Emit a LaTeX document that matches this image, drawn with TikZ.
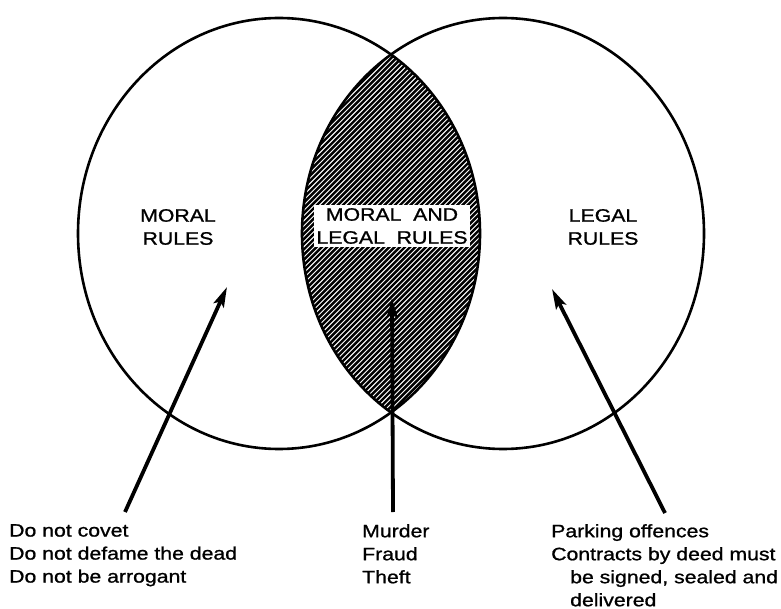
\documentclass[tikz,border=0pt]{standalone}
\usepackage{fontspec}
\setmainfont[FakeStretch=1.18,FakeBold=1]{Liberation Sans}
\usetikzlibrary{arrows.meta}
\begin{document}
\begin{tikzpicture}[x=1pt,y=-1pt,
  ring/.style={line width=2.6pt},
  hatchline/.style={line width=2.4pt},
  pointer/.style={line width=3.8pt,-{Stealth[length=20pt,width=11pt,inset=4pt]}},
  txt/.style={font=\fontsize{18}{23}\selectfont,inner sep=0pt},
  lbl/.style={txt,align=center},
  blk/.style={txt,align=left,anchor=north west}]
\useasboundingbox (0,0) rectangle (781,609);
\coordinate (cL) at (279,233.5);
\coordinate (cR) at (503,233.5);
% hatched intersection
\begin{scope}
  \clip (cL) ellipse [x radius=201, y radius=215.5];
  \clip (cR) ellipse [x radius=201, y radius=215.5];
  \foreach \i in {0,...,125} {
    \draw[hatchline] (-140+\i*5.2,480) -- ++(500,-500);
  }
\end{scope}
\draw[ring] (cL) ellipse [x radius=201, y radius=215.5];
\draw[ring] (cR) ellipse [x radius=201, y radius=215.5];
% labels
\node[lbl] (moral) at (178,227) {MORAL\\RULES};
\node[lbl] (legal) at (603,227) {LEGAL\\RULES};
\node[lbl,fill=white,inner xsep=2pt,inner ysep=3pt] (both) at (392,226) {MORAL\ \ AND\\LEGAL\ \ RULES};
% arrows
\coordinate (tL) at (227,287);
\coordinate (tM) at (392,298);
\coordinate (tR) at (552,289);
\coordinate (bL) at (125,512);
\coordinate (bM) at (393,512);
\coordinate (bR) at (665,513);
\draw[pointer] (bL) -- (tL);
\draw[pointer] (bM) -- (tM);
\draw[pointer] (bR) -- (tR);
% texts
\node[blk] (ltxt) at (9,524) {Do not covet\\Do not defame the dead\\Do not be arrogant};
\node[blk] (mtxt) at (362,524) {Murder\\Fraud\\Theft};
\node[blk] (rtxt) at (551,524) {Parking offences\\Contracts by deed must\\\hspace*{19pt}be signed, sealed and\\\hspace*{19pt}delivered};
\end{tikzpicture}
\end{document}
